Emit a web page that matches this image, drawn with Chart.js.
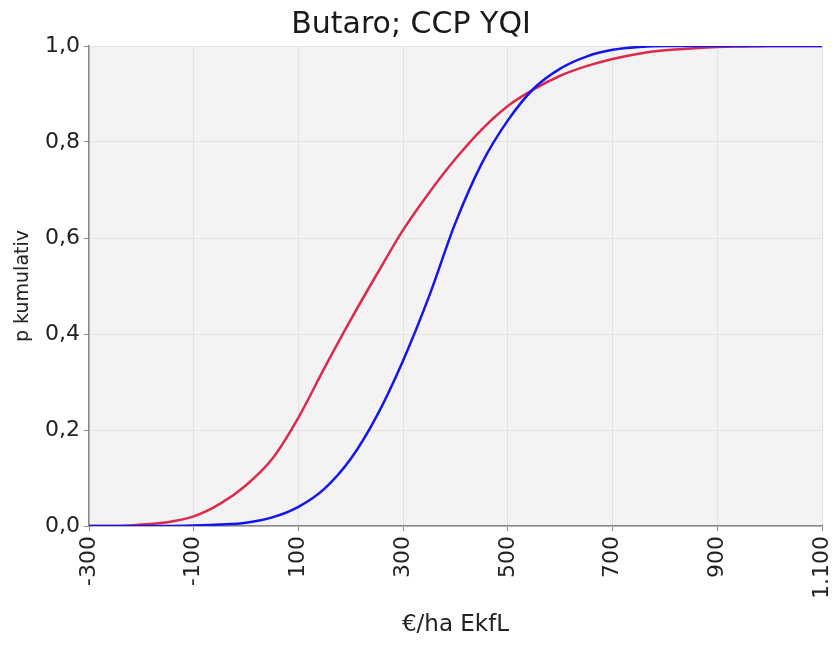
<!DOCTYPE html>
<html>
<head>
<meta charset="utf-8">
<script src="https://cdn.jsdelivr.net/npm/chart.js@4"></script>
<style>
html,body{margin:0;padding:0;background:#fff;}
#wrap{width:834px;height:648px;}
</style>
</head>
<body>
<div id="wrap"><canvas id="cdf" width="834" height="648"></canvas></div>
<script>
// x in €/ha EkfL, cumulative p
const xValues=[-300,-250,-200,-150,-100,-50,0,50,100,150,200,250,300,350,400,450,500,550,600,650,700,750,800,850,900,950,1000,1050,1100];
const redValues=[0,0,0.003,0.008,0.02,0.046,0.085,0.14,0.226,0.33,0.43,0.525,0.617,0.695,0.765,0.826,0.875,0.91,0.938,0.958,0.973,0.984,0.991,0.995,0.998,0.999,1,1,1];
const blueValues=[0,0,0,0,0.001,0.003,0.007,0.018,0.04,0.078,0.14,0.23,0.345,0.48,0.632,0.755,0.845,0.912,0.953,0.978,0.992,0.998,1,1,1,1,1,1,1];
const xTicks=[-300,-100,100,300,500,700,900,1100];
const yTicks=[0,0.2,0.4,0.6,0.8,1];

const FONT='"DejaVu Sans", Verdana, sans-serif';
const toPts=vals=>xValues.map((x,i)=>({x:x,y:vals[i]}));

const plotBg={
  id:'plotBg',
  beforeDraw(chart){
    const {ctx,chartArea:a}=chart;
    ctx.save();
    ctx.fillStyle='#f3f3f3';
    ctx.fillRect(a.left,a.top,a.right-a.left,a.bottom-a.top);
    ctx.restore();
  }
};

new Chart(document.getElementById('cdf'),{
  type:'line',
  data:{datasets:[
    {label:'blue',data:toPts(blueValues),borderColor:'#1414ee',borderWidth:2.5,pointRadius:0,cubicInterpolationMode:'monotone',fill:false},
    {label:'red',data:toPts(redValues),borderColor:'#dc2a4c',borderWidth:2.5,pointRadius:0,cubicInterpolationMode:'monotone',fill:false}
  ]},
  options:{
    responsive:false,
    animation:false,
    layout:{padding:{left:0,right:12,top:0,bottom:0}},
    plugins:{
      legend:{display:false},
      tooltip:{enabled:false},
      title:{display:true,text:'Butaro; CCP YQI',color:'#1a1a1a',font:{family:FONT,size:30,weight:'normal'},padding:{top:7,bottom:3}}
    },
    scales:{
      x:{
        type:'linear',min:-300,max:1100,
        afterBuildTicks:s=>{s.ticks=xTicks.map(v=>({value:v}));},
        afterFit:s=>{s.height=122;s.paddingLeft=0;s.paddingRight=0;},
        ticks:{minRotation:90,maxRotation:90,padding:5,color:'#222',font:{family:FONT,size:22},
          callback:v=>v.toLocaleString('de-DE')},
        grid:{color:'#e2e2e2',tickColor:'#888',tickLength:5,lineWidth:1},
        border:{color:'#888',width:1.5},
        title:{display:true,text:'€/ha EkfL',color:'#222',font:{family:FONT,size:23},padding:{top:0,bottom:9}}
      },
      y:{
        min:0,max:1,
        afterBuildTicks:s=>{s.ticks=yTicks.map(v=>({value:v}));},
        afterFit:s=>{s.width=89;},
        ticks:{padding:4,color:'#222',font:{family:FONT,size:22},
          callback:v=>v.toFixed(1).replace('.',',')},
        grid:{color:'#e2e2e2',tickColor:'#888',tickLength:5,lineWidth:1},
        border:{color:'#888',width:1.5},
        title:{display:true,text:'p kumulativ',color:'#222',font:{family:FONT,size:19},padding:{top:12,bottom:0}}
      }
    }
  },
  plugins:[plotBg]
});
</script>
</body>
</html>
